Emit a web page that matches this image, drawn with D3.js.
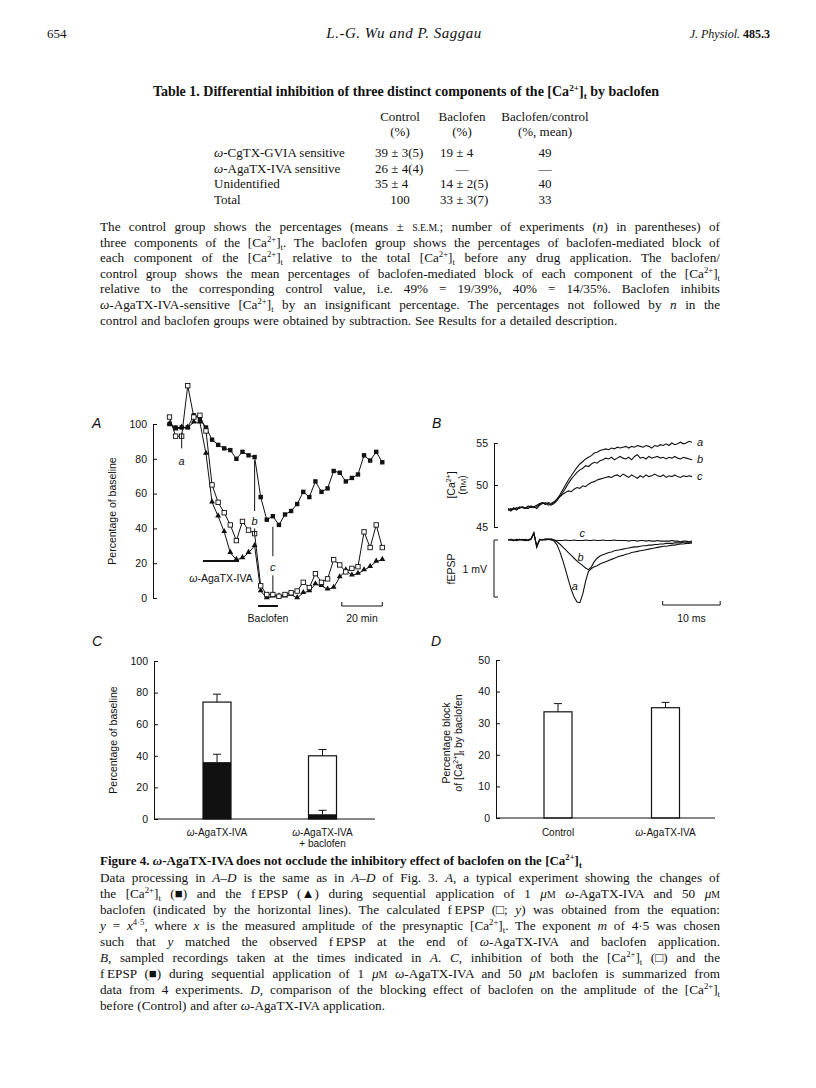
<!DOCTYPE html>
<html><head><meta charset="utf-8">
<script src="https://cdn.jsdelivr.net/npm/d3@7"></script>
<style>html,body{margin:0;padding:0;background:#fff;}svg{display:block;}</style>
</head><body>
<svg id="page" width="816" height="1088"></svg>
<script>
// ---------------- DATA ----------------
const tableRows = ["*ω*-CgTX-GVIA sensitive", "*ω*-AgaTX-IVA sensitive", "Unidentified", "Total"];
const controlPct = ["39 ± 3(5)", "26 ± 4(4)", "35 ± 4", "100"];
const baclofenPct = ["19 ± 4", "—", "14 ± 2(5)", "33 ± 3(7)"];
const ratioPct = ["49", "—", "40", "33"];

// Panel A: time (min) and series (% of baseline)
const timeMin = [0,3,6,9,12,15,18,21,24,27,30,33,36,39,42,45,48,51,54,57,60,63,66,69,72,75,78,81,84,87,90,93,96,99,102,105];
const caPresyn = [100,98,98,98,105,103,98,91,88,86,85,80,84,82,81,58,45,47,42,48,50,54,61,58,67,61,63,73,72,67,69,71,82,79,84,78];
const fepspObs = [100,97,98,98,101,101,83,55,47,38,26,22,23,26,30,4,0,1,1,1,2,0,3,4,8,7,5,6,12,16,13,14,16,18,21,22];
const fepspCalc = [104,93,93,122,104,105,96,65,55,49,42,33,44,39,37,7,2,2,1,2,3,4,9,6,14,9,11,22,19,15,17,18,38,29,42,29];
const drugBars = [{label:"ω-AgaTX-IVA", start:16.5, end:34.3}, {label:"Baclofen", start:43.7, end:53.5}];
const sampleMarks = [{label:"a", t:6}, {label:"b", t:42}, {label:"c", t:51}];
const ticksA = [0,20,40,60,80,100];

// Panel B: traces sampled every 0.5 ms from 0 to 32 ms
const traceStepMs = 0.5;
const caTraceA = [47.1,46.9,47.2,47.0,47.3,47.4,47.2,47.5,47.3,47.4,47.2,47.6,47.8,47.9,47.6,47.7,47.9,48.3,48.8,49.4,50.0,50.6,51.1,51.6,52.1,52.5,52.8,53.1,53.3,53.5,53.8,53.9,54.1,54.2,54.3,54.2,54.4,54.3,54.5,54.4,54.5,54.6,54.4,54.6,54.5,54.7,54.6,54.5,54.7,54.6,54.4,54.7,54.6,54.8,54.7,54.9,54.7,55.0,54.8,54.9,55.1,54.9,55.0,55.2,55.1];
const caTraceB = [47.2,47.0,47.3,47.1,47.4,47.3,47.2,47.4,47.5,47.3,47.4,47.7,47.9,47.7,47.8,47.6,47.8,48.1,48.6,49.1,49.6,50.2,50.7,51.1,51.5,51.8,52.0,52.3,52.2,52.5,52.7,52.6,52.9,53.0,53.2,53.1,53.3,53.0,53.2,53.4,53.2,53.1,53.3,53.0,53.4,53.6,53.2,53.3,53.1,53.4,53.2,53.3,53.4,53.2,53.3,53.1,53.3,53.2,53.4,53.2,53.1,53.3,53.2,53.1,53.0];
const caTraceC = [47.0,47.2,47.1,47.3,47.2,47.4,47.3,47.2,47.5,47.4,47.6,47.8,47.9,47.7,47.9,47.8,48.0,48.3,48.6,48.9,49.1,49.3,49.2,49.5,49.7,49.6,49.9,49.8,50.1,50.3,50.4,50.6,50.7,50.8,50.9,51.0,50.9,51.1,51.2,51.0,51.3,51.1,50.9,51.2,51.0,50.8,51.1,50.9,51.2,51.0,51.1,51.3,51.1,51.0,51.2,50.9,51.1,51.0,51.2,51.0,50.9,51.1,51.0,51.1,51.0];
const epspTraceA = [0.00,0.01,-0.01,0.00,0.01,0.00,-0.01,0.00,0.02,0.12,-0.12,0.01,0.00,0.01,0.02,0.01,-0.02,-0.08,-0.20,-0.35,-0.52,-0.70,-0.87,-1.00,-1.09,-1.10,-0.95,-0.72,-0.55,-0.50,-0.47,-0.45,-0.42,-0.40,-0.38,-0.36,-0.34,-0.32,-0.30,-0.28,-0.27,-0.25,-0.24,-0.22,-0.21,-0.20,-0.19,-0.18,-0.17,-0.16,-0.15,-0.14,-0.13,-0.12,-0.11,-0.11,-0.10,-0.09,-0.09,-0.08,-0.07,-0.07,-0.06,-0.06,-0.05];
const epspTraceB = [0.01,0.00,-0.01,0.01,0.00,0.01,0.00,-0.01,0.01,0.11,-0.10,0.00,0.01,0.00,0.01,0.02,0.00,-0.03,-0.07,-0.12,-0.17,-0.22,-0.27,-0.32,-0.37,-0.41,-0.45,-0.49,-0.52,-0.47,-0.38,-0.32,-0.28,-0.26,-0.24,-0.22,-0.21,-0.19,-0.18,-0.17,-0.16,-0.15,-0.14,-0.13,-0.12,-0.12,-0.11,-0.10,-0.10,-0.09,-0.09,-0.08,-0.08,-0.07,-0.07,-0.06,-0.06,-0.06,-0.05,-0.05,-0.05,-0.04,-0.04,-0.04,-0.04];
const epspTraceC = [0.00,0.01,0.00,-0.01,0.01,0.00,0.01,0.00,0.02,0.13,-0.13,0.01,0.00,0.02,0.01,0.00,0.00,-0.01,-0.01,-0.01,0.00,-0.01,-0.01,0.00,-0.01,-0.01,-0.01,0.00,-0.01,-0.01,0.00,-0.01,-0.01,0.00,-0.01,-0.01,-0.01,0.00,-0.01,-0.01,-0.01,-0.01,-0.02,-0.01,-0.01,-0.02,-0.01,-0.01,-0.02,-0.01,-0.02,-0.02,-0.01,-0.02,-0.02,-0.02,-0.02,-0.01,-0.02,-0.02,-0.03,-0.02,-0.02,-0.03,-0.02];
const caTicksB = [45,50,55];

// Panel C
const catsC = ["ω-AgaTX-IVA", "ω-AgaTX-IVA|+ baclofen"];
const caInhib = [74, 40];
const caInhibErr = [5, 4];
const epspInhib = [36, 3];
const epspInhibErr = [5, 2.5];
const ticksC = [0,20,40,60,80,100];

// Panel D
const catsD = ["Control", "ω-AgaTX-IVA"];
const blockPct = [33.6, 34.9];
const blockErr = [2.6, 1.7];
const ticksD = [0,10,20,30,40,50];

// ---------------- HELPERS ----------------
const SERIF = "'Liberation Serif','Times New Roman',serif";
const SANS = "'Liberation Sans',Arial,Helvetica,sans-serif";
const INK = "#111";
const svg = d3.select("#page");

function rich(parent, x, y, markup, o) {
  o = o || {};
  const size = o.size || 13;
  const t = parent.append("text").attr("x", x).attr("y", y)
    .attr("font-family", o.family || SERIF).attr("font-size", size)
    .attr("font-weight", o.weight || "normal").attr("text-anchor", o.anchor || "start")
    .attr("fill", INK);
  if (o.italic) t.attr("font-style", "italic");
  if (o.ls) t.attr("letter-spacing", o.ls);
  const parts = markup.split(/(\*[^*]*\*|\^[^\^]*\^|_[^_]*_|#[^#]*#)/).filter(s => s.length);
  let shift = 0, plain = "";
  parts.forEach(p => {
    let txt = p, st = null;
    const c = p[0];
    if ("*^_#".includes(c) && p.length > 1 && p[p.length - 1] === c) { st = c; txt = p.slice(1, -1); }
    const ts = t.append("tspan").text(st === "#" ? txt.toUpperCase() : txt);
    let target = 0;
    if (st === "*") ts.attr("font-style", "italic");
    if (st === "^") { ts.attr("font-size", size * 0.66); target = -size * 0.38; }
    if (st === "_") { ts.attr("font-size", size * 0.66); target = size * 0.22; }
    if (st === "#") ts.attr("font-size", size * 0.74);
    if (target !== shift) { ts.attr("dy", target - shift); shift = target; }
    plain += txt;
  });
  if (o.justify) {
    const len = t.node().getComputedTextLength();
    const spaces = (plain.match(/ /g) || []).length;
    if (spaces) t.style("word-spacing", ((o.justify - len) / spaces) + "px");
  } else if (o.ws) {
    t.style("word-spacing", o.ws + "px");
  }
  return t;
}

function styleAxis(g, size) {
  g.select(".domain").attr("stroke", INK).attr("stroke-width", 1);
  g.selectAll(".tick line").attr("stroke", INK).attr("stroke-width", 1);
  g.selectAll(".tick text").attr("font-family", SANS).attr("font-size", size || 10.5).attr("fill", INK);
}

// ---------------- PAGE TEXT ----------------
rich(svg, 47, 38, "654", {size: 13});
rich(svg, 404, 38, "L.-G. Wu and P. Saggau", {italic: true, size: 15, anchor: "middle", ls: 0.5});
const jp = rich(svg, 770, 38, "*J. Physiol.* ", {size: 12, anchor: "end"});
jp.append("tspan").attr("font-weight", "bold").text("485.3");

rich(svg, 406, 96, "Table 1. Differential inhibition of three distinct components of the [Ca^2+^]_t_ by baclofen", {weight: "bold", size: 14, anchor: "middle"});

const colCenters = [400, 462, 545];
const colLefts = [375, 440, null];
[["Control", "(%)"], ["Baclofen", "(%)"], ["Baclofen/control", "(%, mean)"]].forEach((h, j) => {
  rich(svg, colCenters[j], 121, h[0], {size: 13, anchor: "middle"});
  rich(svg, colCenters[j], 136, h[1], {size: 13, anchor: "middle"});
});
const rowY = [157, 173, 188, 204];
tableRows.forEach((r, i) => {
  rich(svg, 214, rowY[i], r, {size: 13});
  [controlPct, baclofenPct, ratioPct].forEach((col, j) => {
    const v = col[i];
    const centered = colLefts[j] === null || v === "100" || v === "—";
    rich(svg, centered ? colCenters[j] : colLefts[j], rowY[i], v, {size: 13, anchor: centered ? "middle" : "start"});
  });
});

const para = [
  "The control group shows the percentages (means ± #s.e.m.#; number of experiments (*n*) in parentheses) of",
  "three components of the [Ca^2+^]_t_. The baclofen group shows the percentages of baclofen-mediated block of",
  "each component of the [Ca^2+^]_t_ relative to the total [Ca^2+^]_t_ before any drug application. The baclofen/",
  "control group shows the mean percentages of baclofen-mediated block of each component of the [Ca^2+^]_t_",
  "relative to the corresponding control value, i.e. 49% = 19/39%, 40% = 14/35%. Baclofen inhibits",
  "*ω*-AgaTX-IVA-sensitive [Ca^2+^]_t_ by an insignificant percentage. The percentages not followed by *n* in the",
  "control and baclofen groups were obtained by subtraction. See Results for a detailed description."
];
para.forEach((l, i) => rich(svg, 100, 231 + i * 15.6, l, {size: 13.2, justify: i < para.length - 1 ? 620 : null, ws: 0.6}));

rich(svg, 100, 865, "Figure 4. *ω*-AgaTX-IVA does not occlude the inhibitory effect of baclofen on the [Ca^2+^]_t_", {weight: "bold", size: 13});
const cap = [
  "Data processing in *A–D* is the same as in *A–D* of Fig. 3. *A*, a typical experiment showing the changes of",
  "the [Ca^2+^]_t_ (■) and the f\u2009EPSP (▲) during sequential application of 1 *μ*#m# *ω*-AgaTX-IVA and 50 *μ*#m#",
  "baclofen (indicated by the horizontal lines). The calculated f\u2009EPSP (□; *y*) was obtained from the equation:",
  "*y* = *x*^4·5^, where *x* is the measured amplitude of the presynaptic [Ca^2+^]_t_. The exponent *m* of 4·5 was chosen",
  "such that *y* matched the observed f\u2009EPSP at the end of *ω*-AgaTX-IVA and baclofen application.",
  "*B*, sampled recordings taken at the times indicated in *A*. *C*, inhibition of both the [Ca^2+^]_t_ (□) and the",
  "f\u2009EPSP (■) during sequential application of 1 *μ*#m# *ω*-AgaTX-IVA and 50 *μ*#m# baclofen is summarized from",
  "data from 4 experiments. *D*, comparison of the blocking effect of baclofen on the amplitude of the [Ca^2+^]_t_",
  "before (Control) and after *ω*-AgaTX-IVA application."
];
cap.forEach((l, i) => rich(svg, 100, 882 + i * 16, l, {size: 13.2, justify: i < cap.length - 1 ? 620 : null, ws: 0.4}));

// panel letters
[["A", 92, 428], ["B", 432, 428], ["C", 92, 646], ["D", 431, 646]].forEach(p =>
  svg.append("text").attr("x", p[1]).attr("y", p[2]).attr("font-family", SANS).attr("font-style", "italic")
    .attr("font-size", 14).attr("fill", INK).text(p[0]));

// ---------------- PANEL A ----------------
const gA = svg.append("g");
const xA = d3.scaleLinear().domain([0, 105]).range([169.5, 382.3]);
const yA = d3.scaleLinear().domain([0, 100]).range([598, 424]);
const axA = gA.append("g").attr("transform", "translate(153,0)")
  .call(d3.axisLeft(yA).tickValues(ticksA).tickSizeInner(-4).tickSizeOuter(0).tickPadding(6));
styleAxis(axA, 10.5);
const labA = gA.append("g").attr("transform", "translate(116,511) rotate(-90)");
rich(labA, 0, 0, "Percentage of baseline", {family: SANS, size: 10.5, anchor: "middle"});

const lineA = d3.line().x((d, i) => xA(timeMin[i])).y(d => yA(d));
[caPresyn, fepspObs, fepspCalc].forEach(s =>
  gA.append("path").attr("d", lineA(s)).attr("fill", "none").attr("stroke", INK).attr("stroke-width", 1));
const sq = 4.4;
gA.selectAll(".fs").data(caPresyn).join("rect")
  .attr("x", (d, i) => xA(timeMin[i]) - sq / 2).attr("y", d => yA(d) - sq / 2)
  .attr("width", sq).attr("height", sq).attr("fill", INK);
gA.selectAll(".tr").data(fepspObs).join("path")
  .attr("d", d3.symbol(d3.symbolTriangle, 15))
  .attr("transform", (d, i) => `translate(${xA(timeMin[i])},${yA(d) - 0.5})`).attr("fill", INK);
gA.selectAll(".os").data(fepspCalc).join("rect")
  .attr("x", (d, i) => xA(timeMin[i]) - sq / 2).attr("y", d => yA(d) - sq / 2)
  .attr("width", sq).attr("height", sq).attr("fill", "#fff").attr("stroke", INK).attr("stroke-width", 0.9);

// sample markers a b c : [line1 range], label value, [line2 range]
const mk = {a: [[95, 86], 79], b: [[79, 50], 44, [40, 36]], c: [[41, 24], 18, [13, 3]]};
sampleMarks.forEach(m => {
  const x = xA(m.t), spec = mk[m.label];
  gA.append("line").attr("x1", x).attr("x2", x).attr("y1", yA(spec[0][0])).attr("y2", yA(spec[0][1])).attr("stroke", INK);
  if (spec[2]) gA.append("line").attr("x1", x).attr("x2", x).attr("y1", yA(spec[2][0])).attr("y2", yA(spec[2][1])).attr("stroke", INK);
  gA.append("text").attr("x", x).attr("y", yA(spec[1]) + 4).attr("text-anchor", "middle").attr("font-family", SANS)
    .attr("font-style", "italic").attr("font-size", 11).attr("fill", INK).text(m.label);
});
const barY = [561, 606];
const barLabY = [582, 622];
drugBars.forEach((b, i) => {
  gA.append("line").attr("x1", xA(b.start)).attr("x2", xA(b.end)).attr("y1", barY[i]).attr("y2", barY[i])
    .attr("stroke", INK).attr("stroke-width", 2);
  rich(gA, (xA(b.start) + xA(b.end)) / 2, barLabY[i], b.label.replace("ω", "*ω*"), {family: SANS, size: 10.5, anchor: "middle"});
});
const sb0 = xA(85), sb1 = xA(105);
gA.append("path").attr("d", `M${sb0},602V606H${sb1}V602`).attr("fill", "none").attr("stroke", INK);
rich(gA, (sb0 + sb1) / 2, 622, "20 min", {family: SANS, size: 10.5, anchor: "middle"});

// ---------------- PANEL B ----------------
const gB = svg.append("g");
const xB = d3.scaleLinear().domain([0, 32]).range([508, 692]);
const yBca = d3.scaleLinear().domain([45, 55]).range([527, 443]);
const yBep = d3.scaleLinear().domain([-1, 0]).range([597, 540]);
const axB = gB.append("g").attr("transform", "translate(494,0)")
  .call(d3.axisLeft(yBca).tickValues(caTicksB).tickSizeInner(-4).tickSizeOuter(0).tickPadding(6));
styleAxis(axB, 10.5);
const labB = gB.append("g").attr("transform", "translate(455,485) rotate(-90)");
rich(labB, 0, 0, "[Ca^2+^]", {family: SANS, size: 10.5, anchor: "middle"});
rich(labB, 0, 11, "(n#m#)", {family: SANS, size: 10.5, anchor: "middle"});
gB.append("path").attr("d", `M498,${yBep(0)}H494V${yBep(-1)}H498`).attr("fill", "none").attr("stroke", INK);
rich(gB, 487, 573, "1 mV", {family: SANS, size: 10.5, anchor: "end"});
const labB2 = gB.append("g").attr("transform", "translate(455,569) rotate(-90)");
rich(labB2, 0, 0, "fEPSP", {family: SANS, size: 10.5, anchor: "middle"});

const lineCa = d3.line().x((d, i) => xB(i * traceStepMs)).y(d => yBca(d));
const lineEp = d3.line().x((d, i) => xB(i * traceStepMs)).y(d => yBep(d));
[caTraceA, caTraceB, caTraceC].forEach(s =>
  gB.append("path").attr("d", lineCa(s)).attr("fill", "none").attr("stroke", INK).attr("stroke-width", 1.1));
[epspTraceA, epspTraceB, epspTraceC].forEach(s =>
  gB.append("path").attr("d", lineEp(s)).attr("fill", "none").attr("stroke", INK).attr("stroke-width", 1.1));
const lastI = caTraceA.length - 1;
[["a", caTraceA[lastI]], ["b", caTraceB[lastI]], ["c", caTraceC[lastI]]].forEach(p =>
  gB.append("text").attr("x", xB(lastI * traceStepMs) + 5).attr("y", yBca(p[1]) + 3.5).attr("font-family", SANS)
    .attr("font-style", "italic").attr("font-size", 11).attr("fill", INK).text(p[0]));
[["c", 12.9, 0.12], ["b", 12.6, -0.3], ["a", 11.6, -0.82]].forEach(p =>
  gB.append("text").attr("x", xB(p[1])).attr("y", yBep(p[2]) + 3.5).attr("text-anchor", "middle").attr("font-family", SANS)
    .attr("font-style", "italic").attr("font-size", 11).attr("fill", INK).text(p[0]));
gB.append("path").attr("d", `M${xB(26.9)},601V605H${xB(36.9)}V601`).attr("fill", "none").attr("stroke", INK);
rich(gB, (xB(26.9) + xB(36.9)) / 2, 622, "10 ms", {family: SANS, size: 10.5, anchor: "middle"});

// ---------------- PANEL C ----------------
const gC = svg.append("g");
const yC = d3.scaleLinear().domain([0, 100]).range([819, 661]);
const xC = d3.scalePoint().domain(catsC).range([217, 322.5]);
const bwC = 28;
const axC = gC.append("g").attr("transform", "translate(154,0)")
  .call(d3.axisLeft(yC).tickValues(ticksC).tickSizeInner(-4).tickSizeOuter(0).tickPadding(6));
styleAxis(axC, 10.5);
const labC = gC.append("g").attr("transform", "translate(117,740) rotate(-90)");
rich(labC, 0, 0, "Percentage of baseline", {family: SANS, size: 10.5, anchor: "middle"});
function errBar(g, x, yTop, yEnd) {
  g.append("line").attr("x1", x).attr("x2", x).attr("y1", yTop).attr("y2", yEnd).attr("stroke", INK);
  g.append("line").attr("x1", x - 4).attr("x2", x + 4).attr("y1", yEnd).attr("y2", yEnd).attr("stroke", INK);
}
catsC.forEach((c, i) => {
  const cx = xC(c);
  errBar(gC, cx, yC(caInhib[i]), yC(caInhib[i] + caInhibErr[i]));
  gC.append("rect").attr("x", cx - bwC / 2).attr("y", yC(caInhib[i])).attr("width", bwC)
    .attr("height", yC(0) - yC(caInhib[i])).attr("fill", "#fff").attr("stroke", INK).attr("stroke-width", 1.2);
  errBar(gC, cx, yC(epspInhib[i]), yC(epspInhib[i] + epspInhibErr[i]));
  gC.append("rect").attr("x", cx - bwC / 2).attr("y", yC(epspInhib[i])).attr("width", bwC)
    .attr("height", yC(0) - yC(epspInhib[i])).attr("fill", INK);
  c.split("|").forEach((ln, k) => rich(gC, cx, 836 + k * 11, ln.replace("ω", "*ω*"), {family: SANS, size: 10, anchor: "middle"}));
});
gC.append("line").attr("x1", 154).attr("x2", 375).attr("y1", yC(0)).attr("y2", yC(0)).attr("stroke", INK);

// ---------------- PANEL D ----------------
const gD = svg.append("g");
const yD = d3.scaleLinear().domain([0, 50]).range([818, 660]);
const xD = d3.scalePoint().domain(catsD).range([558, 665.5]);
const axD = gD.append("g").attr("transform", "translate(496,0)")
  .call(d3.axisLeft(yD).tickValues(ticksD).tickSizeInner(-4).tickSizeOuter(0).tickPadding(6));
styleAxis(axD, 10.5);
const labD = gD.append("g").attr("transform", "translate(450,743) rotate(-90)");
rich(labD, 0, 0, "Percentage block", {family: SANS, size: 10.5, anchor: "middle"});
rich(labD, 0, 12, "of [Ca^2+^]_t_ by baclofen", {family: SANS, size: 10.5, anchor: "middle"});
catsD.forEach((c, i) => {
  const cx = xD(c);
  errBar(gD, cx, yD(blockPct[i]), yD(blockPct[i] + blockErr[i]));
  gD.append("rect").attr("x", cx - 14).attr("y", yD(blockPct[i])).attr("width", 28)
    .attr("height", yD(0) - yD(blockPct[i])).attr("fill", "#fff").attr("stroke", INK).attr("stroke-width", 1.2);
  rich(gD, cx, 836, c.replace("ω", "*ω*"), {family: SANS, size: 10, anchor: "middle"});
});
gD.append("line").attr("x1", 496).attr("x2", 715).attr("y1", yD(0)).attr("y2", yD(0)).attr("stroke", INK);
</script>
</body></html>
